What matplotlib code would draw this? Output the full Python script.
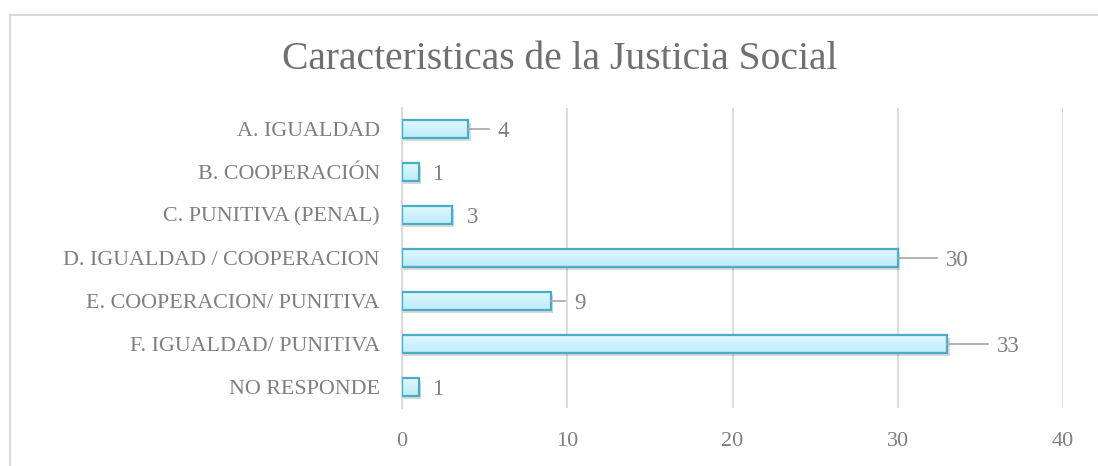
import numpy as np
import matplotlib.pyplot as plt
from matplotlib.patches import Rectangle

categories = ["A. IGUALDAD", "B. COOPERACIÓN", "C. PUNITIVA (PENAL)",
              "D. IGUALDAD / COOPERACION", "E. COOPERACION/ PUNITIVA",
              "F. IGUALDAD/ PUNITIVA", "NO RESPONDE"]
values = [4, 1, 3, 30, 9, 33, 1]
xticks = [0, 10, 20, 30, 40]

# label placement (as Excel moved them): distance from bar end, in data units
label_dx = [1.8, 0.8, 0.9, 2.9, 1.4, 3.0, 0.8]

plt.rcParams['font.family'] = ['Liberation Serif', 'DejaVu Serif']
text_color = '#7f7f7f'
grid_color = '#d9d9d9'

fig = plt.figure(figsize=(10.98, 4.66), dpi=100)
ax = fig.add_axes([402 / 1098, 1 - 408 / 466, (1063 - 402) / 1098, (408 - 107.5) / 466])

ypos = np.arange(len(categories))
bar_h = 0.42

# gradient fill for the bars
grad = np.linspace(0, 1, 64).reshape(-1, 1)
cmap = plt.matplotlib.colors.LinearSegmentedColormap.from_list(
    'barfill', ['#e2f8ff', '#bdecfa'])

for y, v, dx in zip(ypos, values, label_dx):
    # shadow
    ax.add_patch(Rectangle((0.05, y - bar_h / 2 + 0.07), v + 0.1, bar_h,
                           facecolor='#000000', alpha=0.15, edgecolor='none', zorder=2))
    im = ax.imshow(grad, cmap=cmap, aspect='auto', extent=(0, v, y + bar_h / 2, y - bar_h / 2),
                   zorder=3)
    rect = Rectangle((0, y - bar_h / 2), v, bar_h, facecolor='none',
                     edgecolor='#4bacc6', linewidth=1.6, zorder=4)
    ax.add_patch(rect)
    im.set_clip_path(rect)
    # leader line + label
    if dx > 1.2:
        ax.plot([v, v + dx - 0.55], [y, y], color='#a6a6a6', linewidth=1.2, zorder=4)
    ax.text(v + dx, y + 0.06, str(v), va='center', ha='left', fontsize=16.5, color=text_color)

ax.set_xlim(0, 40)
ax.set_ylim(len(categories) - 0.5, -0.5)
ax.set_xticks(xticks)
ax.set_xticklabels([str(t) for t in xticks], fontsize=16, color=text_color)
ax.set_yticks(ypos)
ax.set_yticklabels(categories, fontsize=15.8, color=text_color)
ax.tick_params(length=0)
ax.tick_params(axis='x', pad=17)
ax.tick_params(axis='y', pad=16)
ax.grid(axis='x', color=grid_color, linewidth=1.3, zorder=0)
ax.set_axisbelow(True)
for s in ['top', 'right', 'bottom']:
    ax.spines[s].set_visible(False)
ax.spines['left'].set_color(grid_color)
ax.spines['left'].set_linewidth(1.3)

fig.text(560 / 1098, 1 - 60 / 466, "Caracteristicas de la Justicia Social",
         ha='center', va='center', fontsize=28.5, color='#6f6f6f')

# chart frame (cropped on the right and bottom)
fig.add_artist(plt.Line2D([10 / 1098, 10 / 1098], [0, 1 - 15 / 466],
                          color='#d9d9d9', linewidth=1.5, transform=fig.transFigure))
fig.add_artist(plt.Line2D([10 / 1098, 1], [1 - 15 / 466, 1 - 15 / 466],
                          color='#d9d9d9', linewidth=1.5, transform=fig.transFigure))

fig.savefig('out.png', dpi=100)
